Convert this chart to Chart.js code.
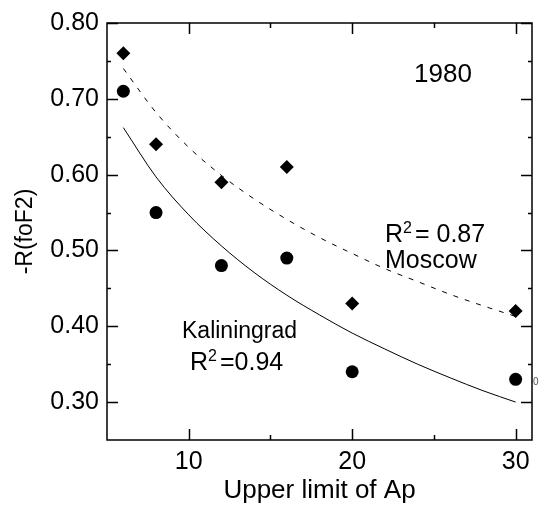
<!DOCTYPE html>
<html>
<head>
<meta charset="utf-8">
<script src="https://cdn.jsdelivr.net/npm/chart.js@4.4.1/dist/chart.umd.min.js"></script>
<style>
  html, body { margin: 0; padding: 0; background: #fff; }
</style>
</head>
<body>
<canvas id="c" width="539" height="506"></canvas>
<script>
// measured points
const apLimit = [6, 8, 12, 16, 20, 30];
const moscowR = [0.76, 0.64, 0.59, 0.61, 0.43, 0.42];
const kaliningradR = [0.71, 0.55, 0.48, 0.49, 0.34, 0.33];

// fitted curves
const fitAp = [6, 8, 10, 12, 14, 16, 18, 20, 22, 24, 26, 28, 30];
const moscowFit = [0.740, 0.682, 0.636, 0.599, 0.568, 0.541, 0.517, 0.496, 0.476, 0.459, 0.442, 0.427, 0.413];
const kaliningradFit = [0.662, 0.597, 0.547, 0.506, 0.471, 0.441, 0.415, 0.391, 0.370, 0.350, 0.332, 0.315, 0.300];

// axis ticks
const xMajor = [10, 20, 30];
const xMinor = [15, 25];
const yMajor = [0.30, 0.40, 0.50, 0.60, 0.70, 0.80];
const yMinor = [0.35, 0.45, 0.55, 0.65, 0.75];

const pts = (xs, ys) => xs.map((v, i) => ({ x: v, y: ys[i] }));
const FONT = '"Liberation Sans", Arial, sans-serif';

Chart.defaults.font.family = FONT;
Chart.defaults.color = '#000';

function supText(ctx, x, y, size, base, sup, rest) {
    ctx.font = size + 'px ' + FONT;
    ctx.fillText(base, x, y);
    let w = ctx.measureText(base).width;
    ctx.font = Math.round(size * 0.64) + 'px ' + FONT;
    ctx.fillText(sup, x + w, y - size * 0.38);
    w += ctx.measureText(sup).width + 3;
    ctx.font = size + 'px ' + FONT;
    ctx.fillText(rest, x + w, y);
}

const frameAndNotes = {
    id: 'frameAndNotes',
    afterDatasetsDraw(chart) {
        const { ctx, chartArea: a, scales: { x, y } } = chart;
        ctx.save();
        ctx.strokeStyle = '#000';
        ctx.lineWidth = 1.5;
        ctx.strokeRect(a.left, a.top, a.right - a.left, a.bottom - a.top);
        ctx.beginPath();
        const xt = (vals, len) => vals.forEach(v => {
            const px = Math.round(x.getPixelForValue(v)) + 0.5;
            ctx.moveTo(px, a.bottom); ctx.lineTo(px, a.bottom - len);
            ctx.moveTo(px, a.top); ctx.lineTo(px, a.top + len);
        });
        const yt = (vals, len) => vals.forEach(v => {
            const py = Math.round(y.getPixelForValue(v)) + 0.5;
            ctx.moveTo(a.left, py); ctx.lineTo(a.left + len, py);
            ctx.moveTo(a.right, py); ctx.lineTo(a.right - len, py);
        });
        xt(xMajor, 11); xt(xMinor, 5);
        yt(yMajor, 11); yt(yMinor, 4);
        ctx.stroke();

        ctx.fillStyle = '#000';
        ctx.textAlign = 'left';
        ctx.textBaseline = 'alphabetic';
        ctx.font = '26px ' + FONT;
        ctx.fillText('1980', 414, 82);
        supText(ctx, 385, 242, 25, 'R', '2', '= 0.87');
        ctx.font = '25px ' + FONT;
        ctx.fillText('Moscow', 385, 268);
        ctx.font = '23px ' + FONT;
        ctx.fillText('Kaliningrad', 182, 338);
        supText(ctx, 190, 370, 25, 'R', '2', '=0.94');
        ctx.fillStyle = '#555';
        ctx.font = '10px ' + FONT;
        ctx.fillText('0', 533, 385);
        ctx.restore();
    }
};

new Chart(document.getElementById('c'), {
    type: 'scatter',
    data: {
        datasets: [
            {
                label: 'Moscow',
                data: pts(apLimit, moscowR),
                pointStyle: 'rectRot',
                pointRadius: 7,
                backgroundColor: '#000',
                borderColor: '#000',
                borderWidth: 0
            },
            {
                label: 'Kaliningrad',
                data: pts(apLimit, kaliningradR),
                pointStyle: 'circle',
                pointRadius: 6.5,
                backgroundColor: '#000',
                borderColor: '#000',
                borderWidth: 0
            },
            {
                label: 'Moscow fit',
                data: pts(fitAp, moscowFit),
                showLine: true,
                pointRadius: 0,
                borderColor: '#000',
                borderWidth: 1,
                borderDash: [5, 7],
                cubicInterpolationMode: 'monotone'
            },
            {
                label: 'Kaliningrad fit',
                data: pts(fitAp, kaliningradFit),
                showLine: true,
                pointRadius: 0,
                borderColor: '#000',
                borderWidth: 1,
                cubicInterpolationMode: 'monotone'
            }
        ]
    },
    options: {
        responsive: false,
        animation: false,
        events: [],
        layout: { padding: { top: 17, right: 7, left: 0, bottom: 0 } },
        plugins: {
            legend: { display: false },
            tooltip: { enabled: false }
        },
        scales: {
            x: {
                type: 'linear',
                min: 5,
                max: 31,
                afterBuildTicks: s => { s.ticks = xMajor.map(v => ({ value: v })); },
                afterFit: s => { s.height = 66; },
                grid: { display: false, drawTicks: false },
                border: { display: false },
                ticks: { font: { size: 25 }, padding: 7, color: '#000', maxRotation: 0 },
                title: { display: true, text: 'Upper limit of Ap', font: { size: 26 }, color: '#000', padding: { top: 0, bottom: 0 } }
            },
            y: {
                type: 'linear',
                min: 0.25,
                max: 0.80,
                afterBuildTicks: s => { s.ticks = yMajor.map(v => ({ value: v })); },
                afterFit: s => { s.width = 107; },
                grid: { display: false, drawTicks: false },
                border: { display: false },
                ticks: { font: { size: 25 }, padding: 8, color: '#000', callback: v => v.toFixed(2) },
                title: { display: true, text: '-R(foF2)', font: { size: 23 }, color: '#000', padding: { top: 12, bottom: 0 } }
            }
        }
    },
    plugins: [frameAndNotes]
});
</script>
</body>
</html>
